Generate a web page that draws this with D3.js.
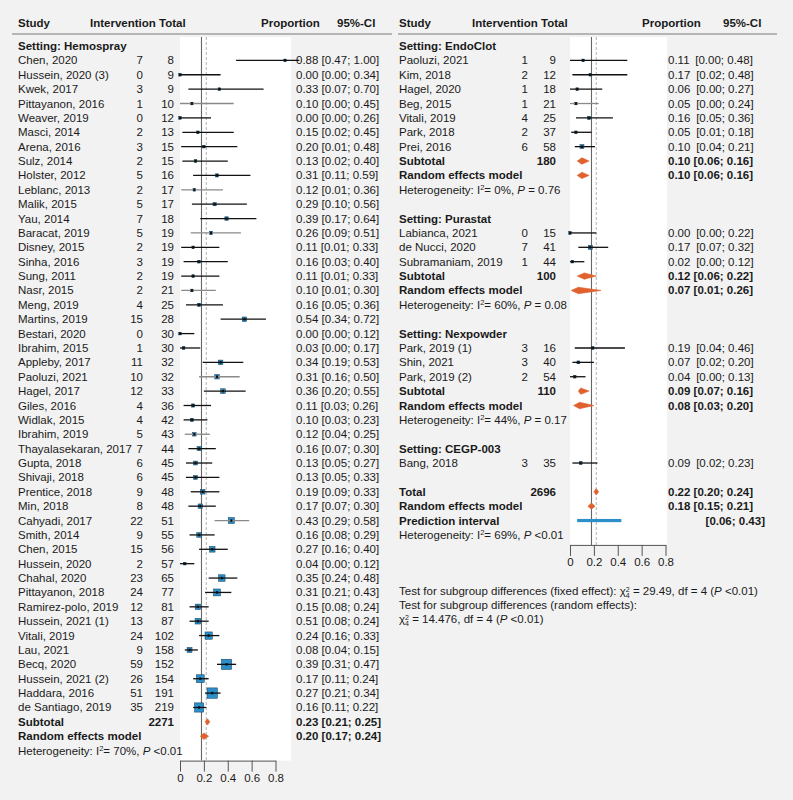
<!DOCTYPE html>
<html>
<head>
<meta charset="utf-8">
<script src="https://cdn.jsdelivr.net/npm/d3@7"></script>
<style>
body { margin: 0; background: #f2f2f2; }
svg { display: block; font-family: "Liberation Sans", Arial, sans-serif; font-size: 11.5px; }
text { fill: #1a1a1a; }
</style>
</head>
<body>
<svg id="forest" width="793" height="800"></svg>
<script>
// study rows: name, intervention (events), total, proportion, lower, upper
var hemospray = [
  ["Chen, 2020", 7, 8, 0.88, 0.47, 1.00],
  ["Hussein, 2020 (3)", 0, 9, 0.00, 0.00, 0.34],
  ["Kwek, 2017", 3, 9, 0.33, 0.07, 0.70],
  ["Pittayanon, 2016", 1, 10, 0.10, 0.00, 0.45],
  ["Weaver, 2019", 0, 12, 0.00, 0.00, 0.26],
  ["Masci, 2014", 2, 13, 0.15, 0.02, 0.45],
  ["Arena, 2016", 3, 15, 0.20, 0.01, 0.48],
  ["Sulz, 2014", 2, 15, 0.13, 0.02, 0.40],
  ["Holster, 2012", 5, 16, 0.31, 0.11, 0.59],
  ["Leblanc, 2013", 2, 17, 0.12, 0.01, 0.36],
  ["Malik, 2015", 5, 17, 0.29, 0.10, 0.56],
  ["Yau, 2014", 7, 18, 0.39, 0.17, 0.64],
  ["Baracat, 2019", 5, 19, 0.26, 0.09, 0.51],
  ["Disney, 2015", 2, 19, 0.11, 0.01, 0.33],
  ["Sinha, 2016", 3, 19, 0.16, 0.03, 0.40],
  ["Sung, 2011", 2, 19, 0.11, 0.01, 0.33],
  ["Nasr, 2015", 2, 21, 0.10, 0.01, 0.30],
  ["Meng, 2019", 4, 25, 0.16, 0.05, 0.36],
  ["Martins, 2019", 15, 28, 0.54, 0.34, 0.72],
  ["Bestari, 2020", 0, 30, 0.00, 0.00, 0.12],
  ["Ibrahim, 2015", 1, 30, 0.03, 0.00, 0.17],
  ["Appleby, 2017", 11, 32, 0.34, 0.19, 0.53],
  ["Paoluzi, 2021", 10, 32, 0.31, 0.16, 0.50],
  ["Hagel, 2017", 12, 33, 0.36, 0.20, 0.55],
  ["Giles, 2016", 4, 36, 0.11, 0.03, 0.26],
  ["Widlak, 2015", 4, 42, 0.10, 0.03, 0.23],
  ["Ibrahim, 2019", 5, 43, 0.12, 0.04, 0.25],
  ["Thayalasekaran, 2017", 7, 44, 0.16, 0.07, 0.30],
  ["Gupta, 2018", 6, 45, 0.13, 0.05, 0.27],
  ["Shivaji, 2018", 6, 45, 0.13, 0.05, 0.33],
  ["Prentice, 2018", 9, 48, 0.19, 0.09, 0.33],
  ["Min, 2018", 8, 48, 0.17, 0.07, 0.30],
  ["Cahyadi, 2017", 22, 51, 0.43, 0.29, 0.58],
  ["Smith, 2014", 9, 55, 0.16, 0.08, 0.29],
  ["Chen, 2015", 15, 56, 0.27, 0.16, 0.40],
  ["Hussein, 2020", 2, 57, 0.04, 0.00, 0.12],
  ["Chahal, 2020", 23, 65, 0.35, 0.24, 0.48],
  ["Pittayanon, 2018", 24, 77, 0.31, 0.21, 0.43],
  ["Ramirez-polo, 2019", 12, 81, 0.15, 0.08, 0.24],
  ["Hussein, 2021 (1)", 13, 87, 0.15, 0.08, 0.24],
  ["Vitali, 2019", 24, 102, 0.24, 0.16, 0.33],
  ["Lau, 2021", 9, 158, 0.08, 0.04, 0.15],
  ["Becq, 2020", 59, 152, 0.39, 0.31, 0.47],
  ["Hussein, 2021 (2)", 26, 154, 0.17, 0.11, 0.24],
  ["Haddara, 2016", 51, 191, 0.27, 0.21, 0.34],
  ["de Santiago, 2019", 35, 219, 0.16, 0.11, 0.22]
];
var endoclot = [
  ["Paoluzi, 2021", 1, 9, 0.11, 0.00, 0.48],
  ["Kim, 2018", 2, 12, 0.17, 0.02, 0.48],
  ["Hagel, 2020", 1, 18, 0.06, 0.00, 0.27],
  ["Beg, 2015", 1, 21, 0.05, 0.00, 0.24],
  ["Vitali, 2019", 4, 25, 0.16, 0.05, 0.36],
  ["Park, 2018", 2, 37, 0.05, 0.01, 0.18],
  ["Prei, 2016", 6, 58, 0.10, 0.04, 0.21]
];
var purastat = [
  ["Labianca, 2021", 0, 15, 0.00, 0.00, 0.22],
  ["de Nucci, 2020", 7, 41, 0.17, 0.07, 0.32],
  ["Subramaniam, 2019", 1, 44, 0.02, 0.00, 0.12]
];
var nexpowder = [
  ["Park, 2019 (1)", 3, 16, 0.19, 0.04, 0.46],
  ["Shin, 2021", 3, 40, 0.07, 0.02, 0.20],
  ["Park, 2019 (2)", 2, 54, 0.04, 0.00, 0.13]
];
var cegp = [
  ["Bang, 2018", 3, 35, 0.09, 0.02, 0.23]
];

// the printed proportion differs from the plotted one in this row of the original
var printedProp = { "Hemospray|Hussein, 2021 (1)": "0.51" };

// subgroup pooled results
var settings   = ["Hemospray", "EndoClot", "Purastat", "Nexpowder", "CEGP-003"];
var subTotals  = [2271, 180, 100, 110];
var subFixed   = [[0.23, 0.21, 0.25], [0.10, 0.06, 0.16], [0.12, 0.06, 0.22], [0.09, 0.07, 0.16]];
var subRandom  = [[0.20, 0.17, 0.24], [0.10, 0.06, 0.16], [0.07, 0.01, 0.26], [0.08, 0.03, 0.20]];
var subI2      = ["70%", "0%", "60%", "44%"];
var subP       = ["<0.01", "= 0.76", "= 0.08", "= 0.17"];

// overall
var totalN = 2696;
var totalFixed = [0.22, 0.20, 0.24];
var totalRandom = [0.18, 0.15, 0.21];
var predInterval = [0.06, 0.43];
var totalI2 = "69%", totalP = "<0.01";

var xTicks = [0, 0.2, 0.4, 0.6, 0.8];
var refSolid = 0.18, refDashed = 0.22;

// lines drawn in grey in the original
var greyLines = ["Hemospray|Pittayanon, 2016", "Hemospray|Leblanc, 2013", "Hemospray|Baracat, 2019",
  "Hemospray|Nasr, 2015", "Hemospray|Paoluzi, 2021", "Hemospray|Ibrahim, 2019",
  "Hemospray|Cahyadi, 2017", "EndoClot|Beg, 2015"];

var BLUE = "#2b8fc9", ORANGE = "#e0612e";

//build row lists
function studyRows(group, list) {
  return list.map(function(s) {
    return {type: "study", group: group, name: s[0], ev: s[1], n: s[2], est: s[3], lo: s[4], hi: s[5]};
  });
}
function block(i, list) {
  var r = [{type: "setting", label: "Setting: " + settings[i]}].concat(studyRows(settings[i], list));
  r.push({type: "sub", label: "Subtotal", n: subTotals[i], v: subFixed[i]});
  r.push({type: "rand", label: "Random effects model", v: subRandom[i]});
  r.push({type: "het", i2: subI2[i], p: subP[i]});
  return r;
}

var leftRows = block(0, hemospray);
var rightRows = [].concat(
  block(1, endoclot), [{type: "blank"}],
  block(2, purastat), [{type: "blank"}],
  block(3, nexpowder), [{type: "blank"}],
  [{type: "setting", label: "Setting: " + settings[4]}], studyRows(settings[4], cegp), [{type: "blank"}],
  [{type: "sub", label: "Total", n: totalN, v: totalFixed},
   {type: "rand", label: "Random effects model", v: totalRandom},
   {type: "pred", label: "Prediction interval", v: predInterval},
   {type: "het", i2: totalI2, p: totalP}]
);

var panels = [
  {rows: leftRows, x0: 180, whiteR: 291, studyX: 18, evX: 143, nX: 174, ciX: 296,
   hInt: 90, hProp: 261, hCi: 337, line: [12, 392], wide: false},
  {rows: rightRows, x0: 570, whiteR: 667, studyX: 399, evX: 528, nX: 556, ciX: 668,
   hInt: 472, hProp: 642, hCi: 723, line: [398, 777], wide: true}
];

var svg = d3.select("#forest");
var y = d3.scaleLinear().domain([0, 1]).range([46, 60.38]);
var size = d3.scaleSqrt().domain([0, 38]).range([0, 10.5]);
var f2 = d3.format(".2f");

function ciText(v) { return "[" + f2(v[0]) + "; " + f2(v[1]) + "]"; }

panels.forEach(function(p) {
  var g = svg.append("g");
  var axisY = y(p.rows.length - 1) + 10;
  var x = d3.scaleLinear().domain([0, 0.8]).range([p.x0, p.x0 + 95.5]);

  // header
  var hy = 27;
  g.append("text").attr("x", p.studyX).attr("y", hy).attr("font-weight", "bold").text("Study");
  g.append("text").attr("x", p.hInt).attr("y", hy).attr("font-weight", "bold").text("Intervention Total");
  g.append("text").attr("x", p.hProp).attr("y", hy).attr("font-weight", "bold").text("Proportion");
  g.append("text").attr("x", p.hCi).attr("y", hy).attr("font-weight", "bold").text("95%-CI");
  g.append("line").attr("x1", p.line[0]).attr("x2", p.line[1]).attr("y1", 34).attr("y2", 34)
    .attr("stroke", "#a0a0a0").attr("stroke-width", 1.5);

  // white plot area
  g.append("rect").attr("x", x(0)).attr("y", 37).attr("width", p.whiteR - x(0)).attr("height", axisY - 37)
    .attr("fill", "#fff");

  // reference lines
  g.append("line").attr("x1", x(refSolid)).attr("x2", x(refSolid)).attr("y1", 37).attr("y2", axisY)
    .attr("stroke", "#666").attr("stroke-width", 1.1);
  g.append("line").attr("x1", x(refDashed)).attr("x2", x(refDashed)).attr("y1", 37).attr("y2", axisY)
    .attr("stroke", "#b0b0b0").attr("stroke-width", 1).attr("stroke-dasharray", "3,2");

  p.rows.forEach(function(r, i) {
    var cy = y(i);
    var ty = cy + 4;
    if (r.type == "setting") {
      g.append("text").attr("x", p.studyX).attr("y", ty).attr("font-weight", "bold").text(r.label);
    }
    else if (r.type == "study") {
      g.append("text").attr("x", p.studyX).attr("y", ty).text(r.name);
      g.append("text").attr("x", p.evX).attr("y", ty).attr("text-anchor", "end").text(r.ev);
      g.append("text").attr("x", p.nX).attr("y", ty).attr("text-anchor", "end").text(r.n);
      var key = r.group + "|" + r.name;
      var est = printedProp[key] || f2(r.est);
      g.append("text").attr("x", p.ciX).attr("y", ty)
        .text(est + (p.wide ? "\u2002" : " ") + ciText([r.lo, r.hi]));
      // square, weight ~ n p (1-p)
      var pw = r.ev == 0 ? 0.5 / (r.n + 1) : r.ev / r.n;
      var s = Math.max(2.6, size(r.n * pw * (1 - pw)));
      g.append("rect").attr("x", x(r.est) - s / 2).attr("y", cy - s / 2).attr("width", s).attr("height", s)
        .attr("fill", BLUE).attr("stroke", "#123a55").attr("stroke-width", 0.5);
      g.append("line").attr("x1", x(r.lo)).attr("x2", x(r.hi)).attr("y1", cy).attr("y2", cy)
        .attr("stroke", greyLines.indexOf(key) >= 0 ? "#8a8a8a" : "#111").attr("stroke-width", 1.3);
      g.append("rect").attr("x", x(r.est) - 1).attr("y", cy - 1.3).attr("width", 2).attr("height", 2.6)
        .attr("fill", "#111");
    }
    else if (r.type == "sub" || r.type == "rand") {
      g.append("text").attr("x", p.studyX).attr("y", ty).attr("font-weight", "bold").text(r.label);
      if (r.n) g.append("text").attr("x", p.nX).attr("y", ty).attr("text-anchor", "end")
        .attr("font-weight", "bold").text(r.n);
      g.append("text").attr("x", p.ciX).attr("y", ty).attr("font-weight", "bold")
        .text(f2(r.v[0]) + " " + ciText([r.v[1], r.v[2]]));
      var h = 3.2;
      g.append("polygon")
        .attr("points", [[x(r.v[1]), cy], [x(r.v[0]), cy - h], [x(r.v[2]), cy], [x(r.v[0]), cy + h]].join(" "))
        .attr("fill", ORANGE).attr("stroke", ORANGE).attr("stroke-width", 0.6);
    }
    else if (r.type == "pred") {
      g.append("text").attr("x", p.studyX).attr("y", ty).attr("font-weight", "bold").text(r.label);
      g.append("text").attr("x", p.ciX + 97).attr("y", ty).attr("font-weight", "bold")
        .attr("text-anchor", "end").text(ciText(r.v));
      g.append("rect").attr("x", x(r.v[0])).attr("y", cy - 1.6).attr("width", x(r.v[1]) - x(r.v[0]))
        .attr("height", 3.2).attr("fill", BLUE);
    }
    else if (r.type == "het") {
      var t = g.append("text").attr("x", p.studyX).attr("y", ty);
      t.append("tspan").text("Heterogeneity: I");
      t.append("tspan").attr("font-size", "7.5px").attr("dy", -4).text("2");
      t.append("tspan").attr("dy", 4).text("= " + r.i2 + ", ");
      t.append("tspan").attr("font-style", "italic").text("P");
      t.append("tspan").text(" " + r.p);
    }
  });

  // x axis
  var ax = g.append("g").attr("transform", "translate(0," + axisY + ")")
    .call(d3.axisBottom(x).tickValues(xTicks).tickFormat(function(d) { return d; })
      .tickSize(11).tickSizeOuter(0).tickPadding(2));
  ax.select(".domain").attr("stroke", "#555");
  ax.selectAll(".tick line").attr("stroke", "#555");
  ax.selectAll(".tick text").attr("font-size", "11.5px").attr("font-family", "Liberation Sans, Arial, sans-serif")
    .style("fill", "#1a1a1a");
});

// subgroup difference tests
function chi(t) {
  t.append("tspan").text("\u03c7");
  t.append("tspan").attr("font-size", "7px").attr("dy", -3.5).text("2");
  t.append("tspan").attr("font-size", "7px").attr("dx", -3.9).attr("dy", 6).text("4");
  t.append("tspan").attr("dy", -2.5).text(" ");
}
var t1 = svg.append("text").attr("x", 399).attr("y", 595);
t1.append("tspan").text("Test for subgroup differences (fixed effect): ");
chi(t1);
t1.append("tspan").text("= 29.49, df = 4 (");
t1.append("tspan").attr("font-style", "italic").text("P");
t1.append("tspan").text(" <0.01)");

svg.append("text").attr("x", 399).attr("y", 609).text("Test for subgroup differences (random effects):");

var t3 = svg.append("text").attr("x", 399).attr("y", 623);
chi(t3);
t3.append("tspan").text("= 14.476, df = 4 (");
t3.append("tspan").attr("font-style", "italic").text("P");
t3.append("tspan").text(" <0.01)");
</script>
</body>
</html>
